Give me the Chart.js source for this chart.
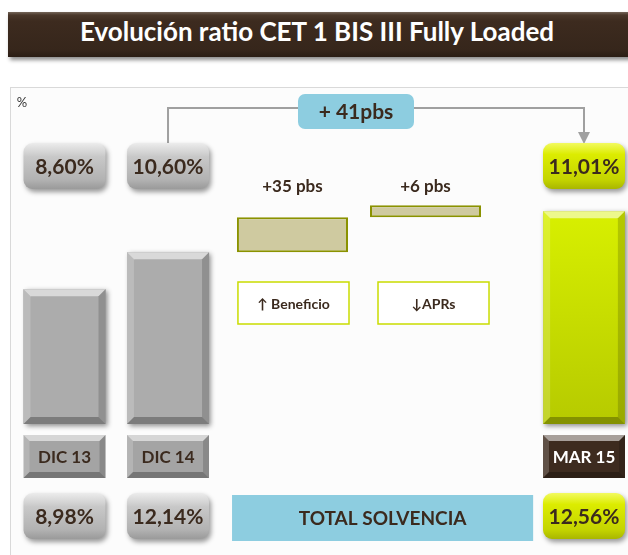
<!DOCTYPE html>
<html lang="es">
<head>
<meta charset="utf-8">
<title>Evolución ratio CET 1 BIS III Fully Loaded</title>
<script src="https://cdn.jsdelivr.net/npm/chart.js@4.4.1/dist/chart.umd.min.js"></script>
<style>
  html, body { margin: 0; padding: 0; background: #fff; }
  body { width: 628px; height: 555px; position: relative; overflow: hidden; font-family: Lato, "Open Sans", sans-serif; }
  #titulo {
    position: absolute; left: 8px; top: 12px; width: 640px; height: 45px; line-height: 42px;
    box-sizing: border-box; padding: 3px 22px 0 0; text-align: center;
    color: #fff; font: bold 26px Lato, "Open Sans", sans-serif;
    background: linear-gradient(#75665a 0, #4a382b 3px, #3d2b1f 9px, #36261b 85%, #2a1d14 100%);
    box-shadow: 2px 3px 4px rgba(0,0,0,.45);
  }
  #panel {
    position: absolute; left: 10px; top: 87px; right: 0; bottom: 0;
    border-left: 1px solid #d9d9d9; border-top: 1px solid #d9d9d9; background: #fcfcfc;
  }
  #grafico { position: absolute; left: 0; top: 0; }
</style>
</head>
<body>
<div id="titulo">Evolución ratio CET 1 BIS III Fully Loaded</div>
<div id="panel"></div>
<canvas id="grafico" width="628" height="555"></canvas>
<script>
// datos (ratio CET 1 BIS III fully loaded, %)
const periodos = ['DIC 13', 'DIC 14', 'MAR 15'];
const cet1 = [8.60, 10.60, 11.01];
const totalSolvencia = [8.98, 12.14, 12.56];
const pasos = ['+35 pbs', '+6 pbs'];
const pasosPbs = [35, 6];
const pasosConcepto = ['\u2191 Beneficio', '\u2193APRs'];
const variacionTotal = '+ 41pbs';
const rotuloSolvencia = 'TOTAL SOLVENCIA';
const grupos = ['DIC 13 / DIC 14', 'Variación', 'MAR 15'];

const FUENTE = 'Lato, "Open Sans", sans-serif';
const MARRON = '#3b2a1e';

// eje vertical partido: por debajo de breakValue la escala va comprimida
class BrokenScale extends Chart.LinearScale {
  static id = 'broken';
  static defaults = {};
  getPixelForValue(value) {
    if (value === null || value === undefined) return NaN;
    const o = this.options;
    let d;
    if (value <= o.breakValue) d = o.breakAt * (value - this.min) / (o.breakValue - this.min);
    else d = o.breakAt + (1 - o.breakAt) * (value - o.breakValue) / (this.max - o.breakValue);
    return this.getPixelForDecimal(d);
  }
  getValueForPixel(pixel) {
    const o = this.options, d = this.getDecimalForPixel(pixel);
    if (d <= o.breakAt) return this.min + d / o.breakAt * (o.breakValue - this.min);
    return o.breakValue + (d - o.breakAt) / (1 - o.breakAt) * (this.max - o.breakValue);
  }
}
Chart.register(BrokenScale);

const Y_MIN = 1.3;
const finPaso1 = cet1[1] + pasosPbs[0] / 100;
const finPaso2 = finPaso1 + pasosPbs[1] / 100;

function pct(v) { return v.toFixed(2).replace('.', ',') + '%'; }

function rr(ctx, x, y, w, h, r) {
  ctx.beginPath();
  ctx.moveTo(x + r, y);
  ctx.arcTo(x + w, y, x + w, y + h, r);
  ctx.arcTo(x + w, y + h, x, y + h, r);
  ctx.arcTo(x, y + h, x, y, r);
  ctx.arcTo(x, y, x + w, y, r);
  ctx.closePath();
}

function poly(ctx, pts, color) {
  ctx.beginPath();
  ctx.moveTo(pts[0][0], pts[0][1]);
  for (let i = 1; i < pts.length; i++) ctx.lineTo(pts[i][0], pts[i][1]);
  ctx.closePath();
  ctx.fillStyle = color;
  ctx.fill();
}

// biselado tipo Excel sobre un rectangulo ya pintado
function bisel(ctx, x, y, w, h, b) {
  poly(ctx, [[x, y], [x + w, y], [x + w - b, y + b], [x + b, y + b]], 'rgba(255,255,255,0.55)');
  poly(ctx, [[x, y], [x + b, y + b], [x + b, y + h - b], [x, y + h]], 'rgba(255,255,255,0.18)');
  poly(ctx, [[x + w, y], [x + w, y + h], [x + w - b, y + h - b], [x + w - b, y + b]], 'rgba(0,0,0,0.16)');
  poly(ctx, [[x, y + h], [x + b, y + h - b], [x + w - b, y + h - b], [x + w, y + h]], 'rgba(0,0,0,0.28)');
}

function texto(ctx, s, x, y, size, color, weight) {
  ctx.font = (weight || 'bold') + ' ' + size + 'px ' + FUENTE;
  ctx.fillStyle = color;
  ctx.textAlign = 'center';
  ctx.textBaseline = 'middle';
  ctx.fillText(s, x, y);
}

function cajaValor(ctx, x, y, w, h, amarilla, s) {
  const g = ctx.createLinearGradient(0, y, 0, y + h);
  if (amarilla) {
    g.addColorStop(0, '#f2fa60'); g.addColorStop(0.25, '#dcec00');
    g.addColorStop(0.8, '#c4d400'); g.addColorStop(1, '#a9b600');
  } else {
    g.addColorStop(0, '#ececec'); g.addColorStop(0.3, '#c8c8c8');
    g.addColorStop(0.8, '#b2b2b2'); g.addColorStop(1, '#9a9a9a');
  }
  ctx.save();
  ctx.shadowColor = 'rgba(0,0,0,0.4)';
  ctx.shadowBlur = 5; ctx.shadowOffsetX = 2; ctx.shadowOffsetY = 3;
  rr(ctx, x, y, w, h, 9);
  ctx.fillStyle = g;
  ctx.fill();
  ctx.restore();
  texto(ctx, s, x + w / 2, y + h / 2 + 1, 21, MARRON);
}

function cajaEtiqueta(ctx, x, y, w, h, oscura, s) {
  ctx.fillStyle = oscura ? '#3d2b1f' : '#a4a4a4';
  ctx.fillRect(x, y, w, h);
  bisel(ctx, x, y, w, h, 6);
  texto(ctx, s, x + w / 2, y + h / 2 + 1, 17, oscura ? '#fff' : MARRON);
}

function barra(chart, ds, i) {
  const el = chart.getDatasetMeta(ds).data[i];
  const p = el.getProps(['x', 'y', 'base', 'width'], true);
  return { x: p.x, left: p.x - p.width / 2, right: p.x + p.width / 2, top: Math.min(p.y, p.base), bottom: Math.max(p.y, p.base), w: p.width };
}

const decoracion = {
  id: 'decoracion',
  beforeDatasetsDraw(chart) {
    const ctx = chart.ctx;
    [[0, 0], [1, 0], [4, 2]].forEach(function (r) {
      const b = barra(chart, r[0], r[1]);
      ctx.save();
      ctx.shadowColor = 'rgba(0,0,0,0.45)';
      ctx.shadowBlur = 5; ctx.shadowOffsetX = 2; ctx.shadowOffsetY = 2;
      ctx.fillStyle = '#999';
      ctx.fillRect(b.left, b.top, b.w, b.bottom - b.top);
      ctx.restore();
    });
  },
  afterDatasetsDraw(chart) {
    const ctx = chart.ctx;
    const bs = [barra(chart, 0, 0), barra(chart, 1, 0), barra(chart, 4, 2)];
    const ps = [barra(chart, 2, 1), barra(chart, 3, 1)];

    bs.forEach(function (b) { bisel(ctx, b.left, b.top, b.w, b.bottom - b.top, 7); });

    texto(ctx, '%', 22, 103, 13, '#333', 'normal');

    // flecha de variacion total DIC 14 -> MAR 15
    const yLinea = 108;
    ctx.save();
    ctx.strokeStyle = '#a0a0a0';
    ctx.lineWidth = 2;
    ctx.beginPath();
    ctx.moveTo(bs[1].x, 143);
    ctx.lineTo(bs[1].x, yLinea);
    ctx.lineTo(bs[2].x, yLinea);
    ctx.lineTo(bs[2].x, 134);
    ctx.stroke();
    ctx.restore();
    poly(ctx, [[bs[2].x - 6, 132], [bs[2].x + 6, 132], [bs[2].x, 144]], '#a0a0a0');

    const cx = (ps[0].x + ps[1].x) / 2 - 3;
    rr(ctx, cx - 58, 94, 116, 35, 7);
    ctx.fillStyle = '#8dcde0';
    ctx.fill();
    texto(ctx, variacionTotal, cx, 112, 21, MARRON);

    // fila superior: CET 1
    bs.forEach(function (b, i) {
      cajaValor(ctx, b.x - 41, 143, 82, 46, i === 2, pct(cet1[i]));
    });

    // pasos intermedios
    const desplaz = [1, 8];
    ps.forEach(function (b, i) {
      const bx = b.left + desplaz[i];
      texto(ctx, pasos[i], b.x, 187, 17, MARRON);
      ctx.fillStyle = '#fff';
      ctx.fillRect(bx, 282, b.w, 42);
      ctx.strokeStyle = '#c9dc00';
      ctx.lineWidth = 1.5;
      ctx.strokeRect(bx, 282, b.w, 42);
      texto(ctx, pasosConcepto[i], bx + b.w / 2, 304, 14, MARRON);
    });

    // etiquetas de periodo
    bs.forEach(function (b, i) {
      cajaEtiqueta(ctx, b.x - 41, 435, 82, 43, i === 2, periodos[i]);
    });

    // fila inferior: total solvencia
    bs.forEach(function (b, i) {
      cajaValor(ctx, b.x - 41, 493, 82, 46, i === 2, pct(totalSolvencia[i]));
    });
    const x0 = bs[1].right + 23, x1 = bs[2].left - 10;
    ctx.fillStyle = '#8dcde0';
    ctx.fillRect(x0, 495, x1 - x0, 46);
    texto(ctx, rotuloSolvencia, (x0 + x1) / 2, 519, 19, MARRON);
  }
};

const ctx = document.getElementById('grafico').getContext('2d');
const gradVerde = ctx.createLinearGradient(0, 210, 0, 424);
gradVerde.addColorStop(0, '#d8f000');
gradVerde.addColorStop(1, '#b6ca00');

new Chart(ctx, {
  type: 'bar',
  data: {
    labels: grupos,
    datasets: [
      { label: periodos[0], data: [cet1[0], null, null], stack: 'a', base: Y_MIN,
        backgroundColor: '#acacac', categoryPercentage: 0.899, barPercentage: 0.781 },
      { label: periodos[1], data: [cet1[1], null, null], stack: 'b', base: Y_MIN,
        backgroundColor: '#acacac', categoryPercentage: 0.874, barPercentage: 0.804 },
      { label: pasos[0], data: [null, [cet1[1], finPaso1], null], stack: 'a',
        backgroundColor: '#cfcaa0', borderColor: '#8a9200', borderWidth: 2, borderSkipped: false,
        categoryPercentage: 0.994, barPercentage: 0.957 },
      { label: pasos[1], data: [null, [finPaso1, finPaso2], null], stack: 'b',
        backgroundColor: '#cfcaa0', borderColor: '#8a9200', borderWidth: 2, borderSkipped: false,
        minBarLength: 12, categoryPercentage: 1.285, barPercentage: 0.74 },
      { label: periodos[2], data: [null, null, cet1[2]], stack: 'a', base: Y_MIN,
        backgroundColor: gradVerde, categoryPercentage: 0.5, barPercentage: 0.70 }
    ]
  },
  options: {
    responsive: false,
    animation: false,
    layout: { padding: { left: 117, right: 44, top: 100, bottom: 131 } },
    datasets: { bar: { skipNull: true, clip: false } },
    scales: {
      x: { display: false, offset: false },
      y: { type: 'broken', display: false, stacked: false, beginAtZero: false,
           min: Y_MIN, max: 12.12, breakValue: 10.6, breakAt: 0.53 }
    },
    plugins: { legend: { display: false }, tooltip: { enabled: false }, title: { display: false } }
  },
  plugins: [decoracion]
});
</script>
</body>
</html>
